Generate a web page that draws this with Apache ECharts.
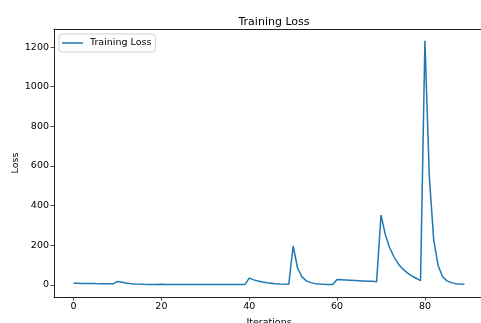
<!DOCTYPE html>
<html>
<head>
<meta charset="utf-8">
<script src="https://cdn.jsdelivr.net/npm/echarts@6/dist/echarts.min.js"></script>
<style>html,body{margin:0;padding:0;background:#fff}#c{width:481px;height:323px}</style>
</head>
<body>
<div id="c"></div>
<script>
var titleText = 'Training Loss';
var seriesName = 'Training Loss';
var xLabel = 'Iterations';
var yLabel = 'Loss';
var xTicks = [0, 20, 40, 60, 80];
var yTicks = [0, 200, 400, 600, 800, 1000, 1200];
var loss = [
  8, 7.5, 7, 6.8, 6.5, 6.2, 6, 5.7, 5.4, 5,
  17, 13, 9, 6, 4.5, 3.5, 2.8, 2.2, 1.8, 1.5,
  3, 2, 1.5, 1.2, 1, 1, 1, 1, 1, 1,
  1, 1, 1, 1, 1, 1, 1, 1, 1, 1,
  34, 25, 19, 14, 10, 8, 6, 4.5, 3.5, 2.5,
  196, 85, 40, 20, 11, 6, 4, 2.5, 2, 1.5,
  27, 25.8, 24.6, 23.4, 22.2, 21, 19.8, 18.6, 17.4, 16,
  352, 252, 186, 139, 104, 79, 60, 45, 33, 21,
  1232, 545, 227, 98, 42, 20, 11, 6, 4, 2.5
];
var iterations = loss.map(function (_, i) { return i; });
var points = iterations.map(function (x, i) { return [x, loss[i]]; });

var chart = echarts.init(document.getElementById('c'), null, {renderer: 'canvas'});
var font = 'DejaVu Sans';
chart.setOption({
  animation: false,
  backgroundColor: '#fff',
  title: {
    text: titleText, left: 269, top: 12, textAlign: 'center',
    textStyle: {fontFamily: font, fontSize: 11, fontWeight: 'normal', color: '#000'}
  },
  legend: {
    left: 59, top: 34, orient: 'vertical',
    icon: 'rect', itemWidth: 21, itemHeight: 1.5, itemGap: 6,
    padding: [4, 4, 4, 3],
    borderColor: '#d0d0d0', borderWidth: 1, borderRadius: 3,
    backgroundColor: 'rgba(255,255,255,0.8)',
    textStyle: {fontFamily: font, fontSize: 9.5, color: '#000', padding: [0, 0, 0, 2]},
    data: [seriesName]
  },
  grid: {
    left: 54, top: 29, right: -3, bottom: 26,
    outerBoundsMode: 'none',
    show: false, containLabel: false
  },
  xAxis: [{
    type: 'value', min: -4.45, max: 93.45,
    name: xLabel, nameLocation: 'middle', nameGap: 21, nameMoveOverlap: false,
    nameTextStyle: {fontFamily: font, fontSize: 9.5, color: '#000'},
    axisLine: {show: true, onZero: false, lineStyle: {color: '#222', width: 1}},
    axisTick: {show: true, customValues: xTicks, length: 3.5, lineStyle: {color: '#222', width: 0.8}},
    axisLabel: {customValues: xTicks, fontFamily: font, fontSize: 9.5, color: '#000', margin: 5,
      formatter: function (v) { return String(v); }},
    splitLine: {show: false}
  }, {
    type: 'value', position: 'top', min: -4.45, max: 93.45,
    axisLine: {show: true, onZero: false, lineStyle: {color: '#222', width: 1}},
    axisTick: {show: false}, axisLabel: {show: false}, splitLine: {show: false}
  }],
  yAxis: {
    type: 'value', min: -61.5, max: 1291.5,
    name: yLabel, nameLocation: 'middle', nameGap: 33, nameRotate: 90, nameMoveOverlap: false,
    nameTextStyle: {fontFamily: font, fontSize: 9.5, color: '#000'},
    axisLine: {show: true, onZero: false, lineStyle: {color: '#222', width: 1}},
    axisTick: {show: true, customValues: yTicks, length: 3.5, lineStyle: {color: '#222', width: 0.8}},
    axisLabel: {customValues: yTicks, fontFamily: font, fontSize: 9.5, color: '#000', margin: 5,
      formatter: function (v) { return String(v); }},
    splitLine: {show: false}
  },
  series: [{
    name: seriesName, type: 'line', data: points, xAxisIndex: 0,
    showSymbol: false, symbol: 'none',
    lineStyle: {color: '#1f77b4', width: 1.5},
    itemStyle: {color: '#1f77b4'}
  }]
});
</script>
</body>
</html>
